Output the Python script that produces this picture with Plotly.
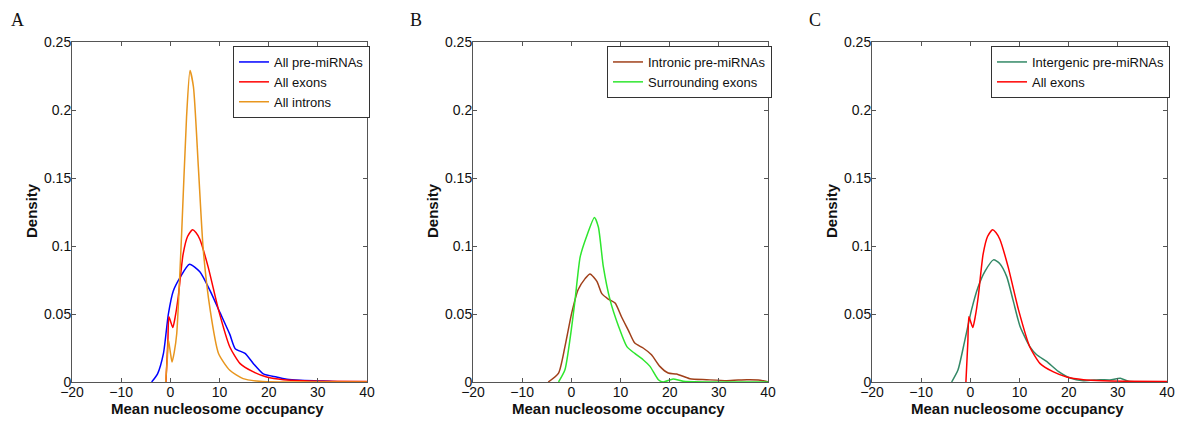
"""
Density of mean nucleosome occupancy: three panels (A, B, C)
"""

import plotly.graph_objects as go

# Panel A / C: all exons (shared curve)
exons_x = [-0.9, -0.5, -0.3, 0.1, 0.5, 1.0, 1.6, 2.6, 3.5, 4.5, 5.2, 6.0, 7.7, 9.8,
           12.1, 14.2, 16.9, 19.6, 23.0, 27.0, 32.0, 40.0]
exons_y = [0.0, 0.03, 0.048, 0.044, 0.040, 0.048, 0.0625, 0.094, 0.107, 0.112, 0.110, 0.105,
           0.0845, 0.053, 0.0257, 0.0135, 0.0074, 0.0037, 0.0017, 0.0009, 0.0006, 0.0003]

# Panel A: all pre-miRNAs
premirna_x = [-3.8, -2.6, -1.4, -0.4, 0.6, 2.0, 3.9, 6.0, 8.1, 10.1, 12.1, 13.2, 15.2, 16.9,
              18.9, 21.6, 23.7, 26.4, 31.1, 34.0, 40.0]
premirna_y = [0.0, 0.006, 0.021, 0.05, 0.067, 0.077, 0.0865, 0.081, 0.067, 0.051, 0.035, 0.0245,
              0.021, 0.0135, 0.006, 0.0037, 0.002, 0.0012, 0.0007, 0.0002, 0.0]

# Panel A: all introns
introns_x = [-0.95, -0.6, -0.4, 0.0, 0.34, 0.8, 1.3, 2.3, 3.3, 4.0, 4.7, 5.7, 6.7, 8.1, 9.8,
             12.1, 14.8, 18.2, 22.0, 40.0]
introns_y = [0.0, 0.018, 0.031, 0.022, 0.0147, 0.022, 0.0355, 0.109, 0.195, 0.229, 0.217,
             0.158, 0.097, 0.053, 0.021, 0.0086, 0.0025, 0.0005, 0.0, 0.0]

# Panel B: intronic pre-miRNAs
intronic_x = [-4.7, -2.6, -1.3, 0.07, 1.4, 2.8, 3.8, 5.2, 6.2, 7.5, 8.9, 10.2, 11.6, 12.9,
              14.6, 16.3, 18.0, 19.7, 21.4, 24.1, 27.5, 31.6, 35.7, 38.0, 40.0]
intronic_y = [0.0, 0.0066, 0.026, 0.0506, 0.068, 0.076, 0.0795, 0.074, 0.065, 0.061, 0.058,
              0.048, 0.038, 0.0286, 0.025, 0.020, 0.0115, 0.0066, 0.0059, 0.0024, 0.0017,
              0.001, 0.0017, 0.0015, 0.0002]

# Panel B: surrounding exons
surround_x = [-2.6, -1.3, -0.1, 0.75, 1.8, 3.1, 4.7, 5.5, 6.5, 7.9, 9.6, 11.3, 12.9, 14.6,
              16.0, 17.7, 18.7, 20.7, 22.8, 40.0]
surround_y = [0.0, 0.009, 0.036, 0.060, 0.092, 0.107, 0.121, 0.114, 0.085, 0.060, 0.041,
              0.026, 0.021, 0.0164, 0.0115, 0.0017, 0.0, 0.0022, 0.0005, 0.0]

# Panel C: intergenic pre-miRNAs
intergenic_x = [-3.8, -2.5, -1.1, 0.24, 1.6, 3.0, 4.7, 6.0, 7.4, 8.7, 10.1, 12.1, 13.5, 15.5,
                17.9, 20.3, 23.0, 26.4, 28.4, 30.5, 32.2, 40.0]
intergenic_y = [0.0, 0.009, 0.031, 0.053, 0.070, 0.0815, 0.0898, 0.087, 0.0775, 0.060, 0.041,
                0.026, 0.020, 0.0152, 0.0078, 0.0029, 0.001, 0.0017, 0.0015, 0.0027, 0.0005, 0.0]

x_ticks = [-20, -10, 0, 10, 20, 30, 40]
y_ticks = [0, 0.05, 0.1, 0.15, 0.2, 0.25]
y_tick_text = ['0', '0.05', '0.1', '0.15', '0.2', '0.25']

# page body adds an 8px margin, so the figure is drawn 8px smaller and
# positions are given in page pixels minus that offset
OFF = 8
W, H = 1200 - OFF, 446 - OFF
FONT = 'Liberation Sans, Arial, sans-serif'


def px_x(p):
    return (p - OFF) / W


def px_y(p):
    return 1 - (p - OFF) / H


# page-pixel boxes of the three plot areas (left, right)
panels = [(72, 367), (473, 768), (872, 1167)]
top_px, bottom_px = 42, 382

fig = go.Figure()

series = [
    (1, 'legend', premirna_x, premirna_y, 'All pre-miRNAs', '#0000FF'),
    (1, 'legend', exons_x, exons_y, 'All exons', '#FF0000'),
    (1, 'legend', introns_x, introns_y, 'All introns', '#E8961E'),
    (2, 'legend2', intronic_x, intronic_y, 'Intronic pre-miRNAs', '#A0401A'),
    (2, 'legend2', surround_x, surround_y, 'Surrounding exons', '#2EE62E'),
    (3, 'legend3', intergenic_x, intergenic_y, 'Intergenic pre-miRNAs', '#338866'),
    (3, 'legend3', exons_x, exons_y, 'All exons', '#FF0000'),
]

for idx, leg, xs, ys, name, color in series:
    suffix = '' if idx == 1 else str(idx)
    fig.add_trace(go.Scatter(
        x=xs, y=ys, mode='lines', name=name,
        line=dict(color=color, width=1.5, shape='spline', smoothing=0.6),
        xaxis='x' + suffix, yaxis='y' + suffix, legend=leg
    ))

layout = dict(
    width=W, height=H,
    margin=dict(l=0, r=0, t=0, b=0),
    paper_bgcolor='white', plot_bgcolor='white',
    font=dict(family=FONT, size=14, color='#111'),
    showlegend=True,
)

axis_common = dict(
    showgrid=False, zeroline=False, showline=True, linecolor='#555', linewidth=1,
    mirror='ticks', ticks='inside', ticklen=4, tickcolor='#555', automargin=False,
    tickfont=dict(size=14, family=FONT, color='#111'),
)

legend_boxes = [(233, 46), (607, 46), (991, 46)]
labels = ['A', 'B', 'C']
label_x = [9, 408, 807]

annotations = []
for i, (l, r) in enumerate(panels):
    suffix = '' if i == 0 else str(i + 1)
    layout['xaxis' + suffix] = dict(
        axis_common,
        domain=[px_x(l), px_x(r)], anchor='y' + suffix,
        range=[-20, 40], tickvals=x_ticks, ticklabelstandoff=-3,
    )
    layout['yaxis' + suffix] = dict(
        axis_common,
        domain=[px_y(bottom_px), px_y(top_px)], anchor='x' + suffix,
        range=[0, 0.25], tickvals=y_ticks, ticktext=y_tick_text, ticklabelstandoff=-3,
    )
    lx, ly = legend_boxes[i]
    layout['legend' if i == 0 else 'legend' + str(i + 1)] = dict(
        x=px_x(lx), y=px_y(ly), xanchor='left', yanchor='top',
        bgcolor='white', bordercolor='#333', borderwidth=1,
        font=dict(size=13, family=FONT, color='#111'),
        tracegroupgap=0, itemwidth=30,
    )
    # x axis title
    annotations.append(dict(
        text='<b>Mean nucleosome occupancy</b>', x=px_x((l + r) / 2 - 2), y=px_y(408),
        xref='paper', yref='paper', xanchor='center', yanchor='middle', showarrow=False,
        font=dict(family=FONT, size=15, color='#111'),
    ))
    # y axis title
    annotations.append(dict(
        text='<b>Density</b>', x=px_x(l - 41), y=px_y(211), textangle=-90,
        xref='paper', yref='paper', xanchor='center', yanchor='middle', showarrow=False,
        font=dict(family=FONT, size=15, color='#111'),
    ))
    # panel letter
    annotations.append(dict(
        text=labels[i], x=px_x(label_x[i]), y=1, xref='paper', yref='paper',
        xanchor='left', yanchor='top', showarrow=False,
        font=dict(family='Liberation Serif, Times New Roman, serif', size=18, color='#111'),
    ))

layout['annotations'] = annotations
fig.update_layout(**layout)

fig.write_html("out.html")
